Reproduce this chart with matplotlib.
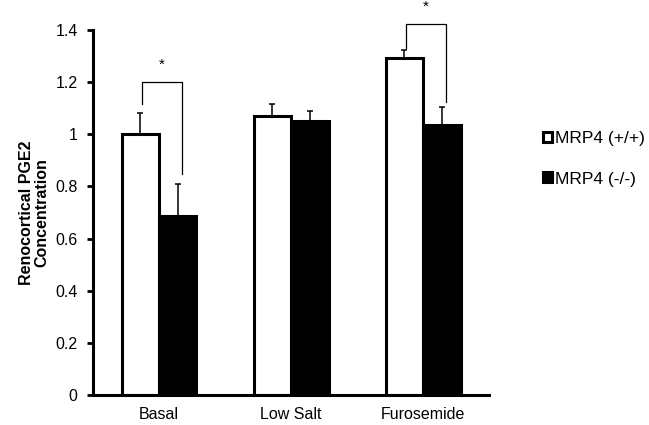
import numpy as np
import matplotlib
matplotlib.use('Agg')
import matplotlib.pyplot as plt

plt.rcParams['font.family'] = ['Liberation Sans', 'DejaVu Sans']

groups = ['Basal', 'Low Salt', 'Furosemide']
wt_vals = [1.0, 1.07, 1.292]
wt_err = [0.083, 0.048, 0.032]
ko_vals = [0.686, 1.051, 1.036]
ko_err = [0.122, 0.038, 0.069]
labels = ['MRP4 (+/+)', 'MRP4 (-/-)']

# significance brackets: (group index, bracket height, left leg end, right leg end)
sig_pairs = [(0, 1.202, 1.115, 0.847), (2, 1.424, 1.331, 1.124)]

fig = plt.figure(figsize=(6.49, 4.25), dpi=100)
ax = fig.add_axes([0.1433, 0.0706, 0.6102, 0.8588])

idx = np.arange(len(groups))
barWidth = 0.284

b1 = ax.bar(idx - barWidth / 2, wt_vals, barWidth, color='white',
            edgecolor='black', linewidth=2.2, label=labels[0], zorder=2)
b2 = ax.bar(idx + barWidth / 2, ko_vals, barWidth, color='black',
            edgecolor='black', linewidth=2.2, label=labels[1], zorder=2)

ax.errorbar(idx - barWidth / 2, wt_vals, yerr=[np.zeros(3), wt_err], fmt='none',
            ecolor='black', elinewidth=1.1, capsize=2, capthick=1.1, zorder=3)
ax.errorbar(idx + barWidth / 2, ko_vals, yerr=[np.zeros(3), ko_err], fmt='none',
            ecolor='black', elinewidth=1.1, capsize=2, capthick=1.1, zorder=3)

for g, top, lend, rend in sig_pairs:
    xl = g - barWidth / 2 + 0.015
    xr = g + barWidth / 2 + 0.03
    ax.plot([xl, xl, xr, xr], [lend, top, top, rend], color='black',
            linewidth=0.9, clip_on=False, zorder=3)
    ax.text((xl + xr) / 2, top + 0.065, '*', ha='center', va='center',
            fontsize=11, clip_on=False)

ax.set_xlim(-0.5, 2.5)
ax.set_ylim(0, 1.4)
ax.set_yticks(np.arange(0, 1.41, 0.2))
ax.set_yticklabels(['0', '0.2', '0.4', '0.6', '0.8', '1', '1.2', '1.4'])
ax.set_xticks(idx)
ax.set_xticklabels(groups)
ax.tick_params(axis='x', length=0, pad=9, labelsize=11.5)
ax.tick_params(axis='y', length=4, width=2, direction='out', pad=7, labelsize=11.5)

for s in ['top', 'right']:
    ax.spines[s].set_visible(False)
ax.spines['left'].set_linewidth(2.2)
ax.spines['bottom'].set_linewidth(2.2)

ax.set_ylabel('Renocortical PGE2\nConcentration', fontsize=11.5,
              fontweight='bold', labelpad=4, linespacing=1.05)

fig.legend(handles=[b1, b2], labels=labels, loc='center left',
           bbox_to_anchor=(0.837, 0.626), frameon=False, fontsize=12.5,
           handlelength=0.5, handleheight=0.5, handletextpad=0.2,
           labelspacing=1.45, borderpad=0, borderaxespad=0)

fig.savefig('out.png', dpi=100)
